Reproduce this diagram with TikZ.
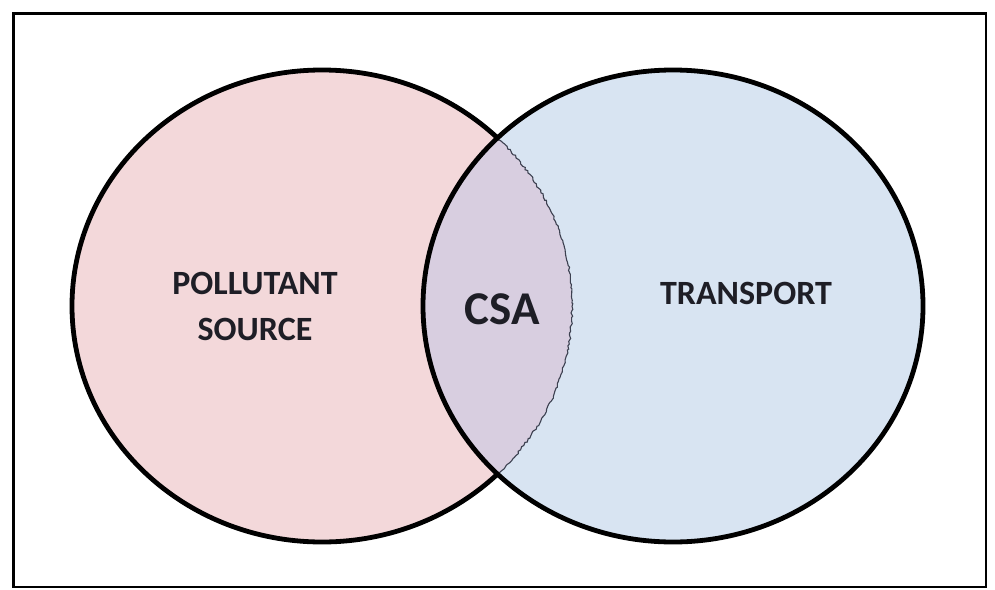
\documentclass[tikz,border=0pt]{standalone}
\usepackage{fontspec}
\setmainfont{Carlito}
\usetikzlibrary{decorations.pathmorphing}
\definecolor{srcfill}{RGB}{243,216,218}
\definecolor{trnfill}{RGB}{216,228,242}
\definecolor{csafill}{RGB}{216,206,224}
\definecolor{labelink}{RGB}{30,30,38}
\definecolor{seam}{RGB}{60,64,80}
\tikzset{
  setline/.style={line width=4.8pt, draw=black},
  frameline/.style={line width=2.6pt, draw=black},
  setlabel/.style={text=labelink, font=\bfseries\fontsize{34}{46}\selectfont, align=center},
  csalabel/.style={text=labelink, font=\bfseries\fontsize{47}{56}\selectfont},
}
\begin{document}
\begin{tikzpicture}[x=1pt,y=-1pt]
  \useasboundingbox (0,0) rectangle (995,589);
  \fill[white] (0,0) rectangle (995,589);
  % pollutant source set
  \fill[srcfill] (322,306) ellipse [x radius=250, y radius=236];
  \draw[setline] (322,306) ellipse [x radius=250, y radius=236];
  % transport set, laid over the first one
  \fill[trnfill] (673,306) ellipse [x radius=250, y radius=236];
  % overlap region
  \begin{scope}
    \clip (322,306) ellipse [x radius=250, y radius=236];
    \fill[csafill] (673,306) ellipse [x radius=250, y radius=236];
  \end{scope}
  % thin jagged seam where the source boundary passes through the transport set
  \begin{scope}
    \clip (673,306) ellipse [x radius=248, y radius=234];
    \draw[seam, line width=1.1pt, decorate,
          decoration={random steps, segment length=2.5pt, amplitude=1pt}]
      (322,306) ellipse [x radius=250, y radius=236];
  \end{scope}
  \draw[setline] (673,306) ellipse [x radius=250, y radius=236];
  % outer frame
  \draw[frameline] (13.5,13.5) rectangle (986,587);
  % labels
  \node[setlabel] (src) at (255,306) {POLLUTANT\\SOURCE};
  \node[csalabel] (csa) at (502,309) {CSA};
  \node[setlabel] (trn) at (746,293) {TRANSPORT};
\end{tikzpicture}
\end{document}
